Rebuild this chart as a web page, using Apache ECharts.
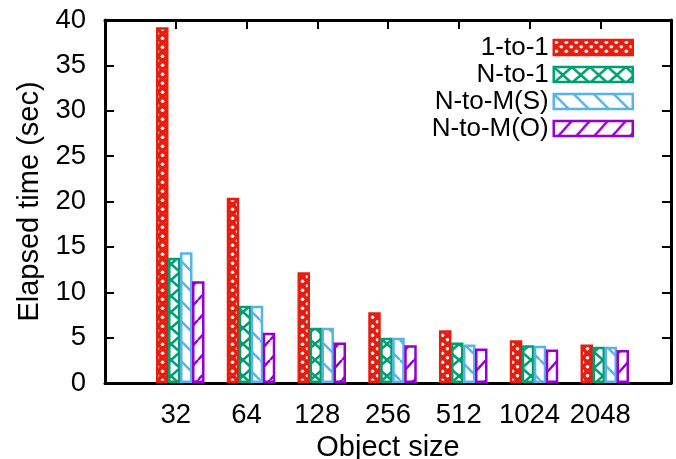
<!DOCTYPE html>
<html>
<head>
<meta charset="utf-8">
<script src="https://cdn.jsdelivr.net/npm/echarts@6/dist/echarts.min.js"></script>
<style>
html,body{margin:0;padding:0;background:#fff;}
#chart{width:676px;height:459px;}
</style>
</head>
<body>
<div id="chart"></div>
<script>
const categories = ['32', '64', '128', '256', '512', '1024', '2048'];
const seriesNames = ['1-to-1', 'N-to-1', 'N-to-M(S)', 'N-to-M(O)'];
const oneToOne = [39.2, 20.4, 12.2, 7.8, 5.8, 4.7, 4.25];
const nToOne = [13.8, 8.5, 6.1, 5.0, 4.45, 4.15, 4.0];
const nToMS = [14.4, 8.5, 6.1, 5.0, 4.25, 4.1, 4.0];
const nToMO = [11.2, 5.55, 4.45, 4.15, 3.8, 3.7, 3.65];

const colors = ['#e51e10', '#009e73', '#56b4e9', '#9400d3'];
const FONT = 'Liberation Sans';

function pattern(kind, color) {
  const c = document.createElement('canvas');
  let w, h;
  if (kind === 'dots') { w = 10; h = 9; }
  else if (kind === 'x') { w = 18; h = 16; }
  else if (kind === 'back') { w = 20; h = 20; }
  else { w = 18; h = 20; }
  c.width = w; c.height = h;
  const g = c.getContext('2d');
  g.fillStyle = '#fff';
  g.fillRect(0, 0, w, h);
  if (kind === 'dots') {
    g.fillStyle = color;
    g.fillRect(0, 0, w, h);
    g.fillStyle = '#fff';
    [[2.5, 2.25], [7.5, 6.75]].forEach(p => {
      g.beginPath(); g.arc(p[0], p[1], 1.8, 0, Math.PI * 2); g.fill();
    });
    return c;
  }
  g.strokeStyle = color;
  g.lineWidth = 2.5;
  for (let k = -1; k <= 1; k++) {
    if (kind === 'x' || kind === 'back') {
      g.beginPath(); g.moveTo(k * w, 0); g.lineTo(k * w + w, h); g.stroke();
    }
    if (kind === 'x' || kind === 'fwd') {
      g.beginPath(); g.moveTo(k * w, h); g.lineTo(k * w + w, 0); g.stroke();
    }
  }
  return c;
}

const kinds = ['dots', 'x', 'back', 'fwd'];
const values = [oneToOne, nToOne, nToMS, nToMO];
const axisCats = [''].concat(categories, ['']);

const series = seriesNames.map((name, i) => ({
  name: name,
  type: 'bar',
  xAxisIndex: 2,
  yAxisIndex: 2,
  data: [null].concat(values[i], [null]),
  barWidth: 12.5,
  barGap: '-4%',
  itemStyle: {
    color: { image: pattern(kinds[i], colors[i]), repeat: 'repeat' },
    borderColor: colors[i],
    borderWidth: 2.5
  },
  emphasis: { disabled: true },
  animation: false
}));

const chart = echarts.init(document.getElementById('chart'), null, { renderer: 'canvas' });
const axisLineStyle = { color: '#000', width: 3 };
const tickStyle = { color: '#000', width: 2 };
chart.setOption({
  backgroundColor: '#fff',
  animation: false,
  textStyle: { fontFamily: FONT, color: '#000' },
  grid: [
    { left: 105, right: 5, top: 20, bottom: 76, containLabel: false, outerBoundsMode: 'none' },
    { left: 109.5, right: 0.5, top: 20, bottom: 76, containLabel: false, outerBoundsMode: 'none' }
  ],
  legend: {
    orient: 'vertical',
    align: 'right',
    right: 37,
    top: 29,
    itemWidth: 79,
    itemHeight: 15,
    itemGap: 0,
    icon: 'rect',
    itemStyle: { borderWidth: 2.5 },
    textStyle: { fontFamily: FONT, fontSize: 26, color: '#000', lineHeight: 27, padding: 0 },
    data: seriesNames
  },
  xAxis: [
    {
      type: 'category', gridIndex: 0, position: 'bottom', data: axisCats, boundaryGap: false,
      axisLine: { onZero: false, lineStyle: axisLineStyle },
      axisTick: { show: false },
      axisLabel: { fontFamily: FONT, fontSize: 27.5, color: '#000', margin: 18, interval: 0 },
      splitLine: { show: false },
      name: 'Object size', nameLocation: 'middle', nameGap: 49,
      nameTextStyle: { fontFamily: FONT, fontSize: 29, color: '#000' }
    },
    {
      type: 'category', gridIndex: 0, position: 'top', data: axisCats, boundaryGap: false,
      axisLine: { onZero: false, lineStyle: axisLineStyle },
      axisTick: { inside: true, length: 9, interval: 0, lineStyle: tickStyle },
      axisLabel: { show: false },
      splitLine: { show: false }
    },
    {
      type: 'category', gridIndex: 1, data: axisCats, boundaryGap: false, show: false
    }
  ],
  yAxis: [
    {
      type: 'value', gridIndex: 0, position: 'left', min: 0, max: 40, interval: 5,
      axisLine: { show: true, onZero: false, lineStyle: axisLineStyle },
      axisTick: { show: true, inside: true, length: 9, lineStyle: tickStyle },
      axisLabel: { fontFamily: FONT, fontSize: 27.5, color: '#000', margin: 19 },
      splitLine: { show: false },
      name: 'Elapsed time (sec)', nameLocation: 'middle', nameGap: 53,
      nameTextStyle: { fontFamily: FONT, fontSize: 29, color: '#000' }
    },
    {
      type: 'value', gridIndex: 0, position: 'right', min: 0, max: 40, interval: 5,
      axisLine: { show: true, onZero: false, lineStyle: axisLineStyle },
      axisTick: { show: true, inside: true, length: 9, lineStyle: tickStyle },
      axisLabel: { show: false },
      splitLine: { show: false }
    },
    {
      type: 'value', gridIndex: 1, min: 0, max: 40, interval: 5, show: false
    }
  ],
  series: series
});
</script>
</body>
</html>
